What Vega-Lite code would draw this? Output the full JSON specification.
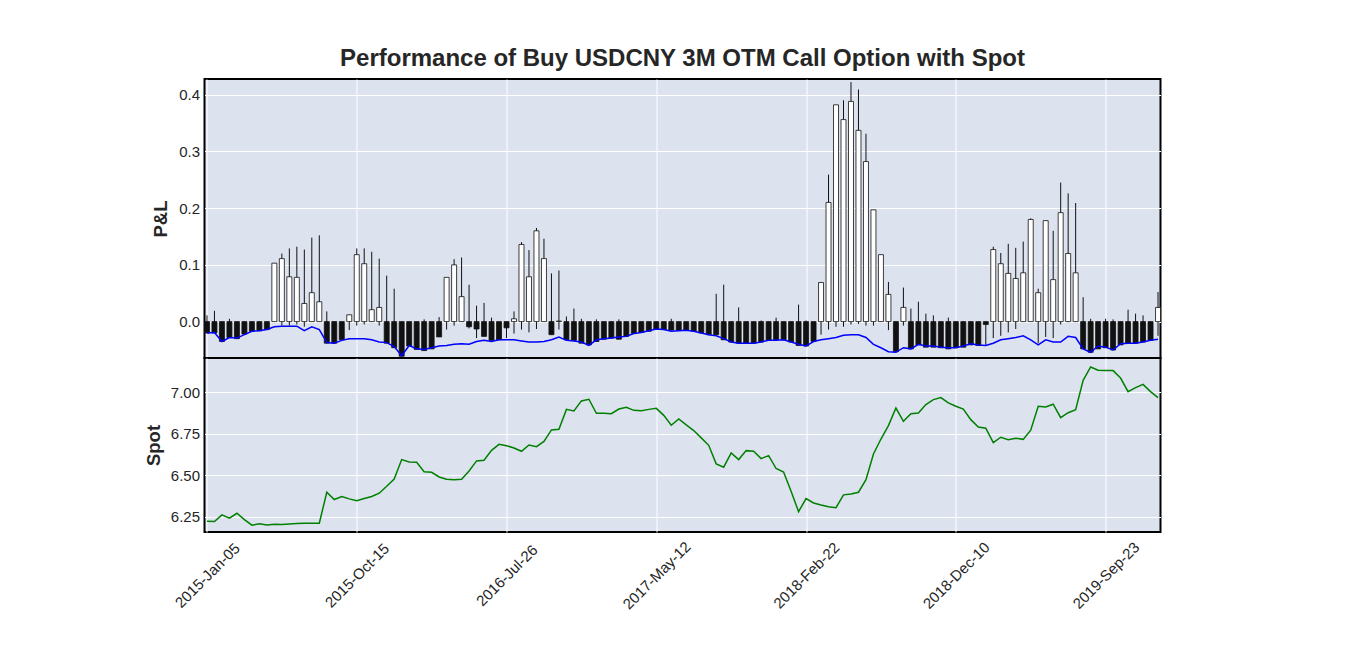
{
 "$schema": "https://vega.github.io/schema/vega-lite/v6.json",
 "background": "white",
 "padding": {"left": 142.5, "top": 46, "right": 5, "bottom": 5},
 "config": {
  "font": "Liberation Sans",
  "view": {"stroke": "black", "strokeWidth": 2, "fill": "#DCE2EE"},
  "axis": {"labelColor": "#262626", "labelFontSize": 15, "titleColor": "#262626", "titleFontSize": 18.5, "titleFontWeight": "bold", "gridColor": "white", "gridWidth": 1, "gridOpacity": 1, "domain": false, "ticks": false, "tickSize": 0},
  "concat": {"spacing": 0}
 },
 "bounds": "flush",
 "spacing": 0,
 "data": {"values": [
  {"d":"2015-Jan-05","o":0,"h":0.011,"l":-0.020,"c":-0.020,"b":-0.020,"s":6.222},
  {"d":"2015-Jan-19","o":0,"h":0.019,"l":-0.020,"c":-0.020,"b":-0.019,"s":6.220},
  {"d":"2015-Feb-02","o":0,"h":0,"l":-0.035,"c":-0.035,"b":-0.035,"s":6.260},
  {"d":"2015-Feb-16","o":0,"h":0.005,"l":-0.028,"c":-0.028,"b":-0.028,"s":6.240},
  {"d":"2015-Mar-02","o":0,"h":0,"l":-0.030,"c":-0.030,"b":-0.029,"s":6.270},
  {"d":"2015-Mar-16","o":0,"h":0,"l":-0.022,"c":-0.022,"b":-0.023,"s":6.232},
  {"d":"2015-Mar-30","o":0,"h":0,"l":-0.017,"c":-0.017,"b":-0.017,"s":6.198},
  {"d":"2015-Apr-13","o":0,"h":0,"l":-0.016,"c":-0.016,"b":-0.016,"s":6.206},
  {"d":"2015-Apr-27","o":0,"h":0,"l":-0.014,"c":-0.014,"b":-0.014,"s":6.200},
  {"d":"2015-May-11","o":0,"h":0.103,"l":0,"c":0.103,"b":-0.009,"s":6.204},
  {"d":"2015-May-25","o":0,"h":0.120,"l":-0.007,"c":0.111,"b":-0.008,"s":6.202},
  {"d":"2015-Jun-08","o":0,"h":0.129,"l":-0.007,"c":0.079,"b":-0.008,"s":6.206},
  {"d":"2015-Jun-22","o":0,"h":0.132,"l":-0.005,"c":0.078,"b":-0.008,"s":6.208},
  {"d":"2015-Jul-06","o":0,"h":0.127,"l":-0.009,"c":0.032,"b":-0.016,"s":6.210},
  {"d":"2015-Jul-20","o":0,"h":0.148,"l":0,"c":0.051,"b":-0.009,"s":6.210},
  {"d":"2015-Aug-03","o":0,"h":0.152,"l":0,"c":0.035,"b":-0.014,"s":6.210},
  {"d":"2015-Aug-17","o":0,"h":0.018,"l":-0.038,"c":-0.038,"b":-0.037,"s":6.397},
  {"d":"2015-Aug-31","o":0,"h":0,"l":-0.038,"c":-0.038,"b":-0.038,"s":6.353},
  {"d":"2015-Sep-14","o":0,"h":0,"l":-0.032,"c":-0.032,"b":-0.033,"s":6.371},
  {"d":"2015-Sep-28","o":0,"h":0.012,"l":-0.015,"c":0.012,"b":-0.030,"s":6.357},
  {"d":"2015-Oct-15","o":0,"h":0.129,"l":-0.007,"c":0.118,"b":-0.030,"s":6.346},
  {"d":"2015-Oct-29","o":0,"h":0.129,"l":-0.005,"c":0.102,"b":-0.030,"s":6.359},
  {"d":"2015-Nov-12","o":0,"h":0.123,"l":0,"c":0.021,"b":-0.032,"s":6.371},
  {"d":"2015-Nov-26","o":0,"h":0.111,"l":-0.007,"c":0.025,"b":-0.036,"s":6.391},
  {"d":"2015-Dec-10","o":0,"h":0.081,"l":-0.038,"c":-0.038,"b":-0.037,"s":6.433},
  {"d":"2015-Dec-24","o":0,"h":0.058,"l":-0.046,"c":-0.046,"b":-0.044,"s":6.477},
  {"d":"2016-Jan-07","o":0,"h":0,"l":-0.061,"c":-0.061,"b":-0.060,"s":6.594},
  {"d":"2016-Jan-21","o":0,"h":0,"l":-0.043,"c":-0.043,"b":-0.042,"s":6.580},
  {"d":"2016-Feb-04","o":0,"h":0,"l":-0.049,"c":-0.049,"b":-0.048,"s":6.578},
  {"d":"2016-Feb-18","o":0,"h":0.004,"l":-0.051,"c":-0.051,"b":-0.049,"s":6.521},
  {"d":"2016-Mar-03","o":0,"h":0,"l":-0.048,"c":-0.048,"b":-0.046,"s":6.517},
  {"d":"2016-Mar-17","o":0,"h":0.008,"l":-0.027,"c":-0.027,"b":-0.043,"s":6.489},
  {"d":"2016-Mar-31","o":0,"h":0.078,"l":-0.014,"c":0.078,"b":-0.042,"s":6.475},
  {"d":"2016-Apr-14","o":0,"h":0.110,"l":-0.007,"c":0.100,"b":-0.040,"s":6.473},
  {"d":"2016-Apr-28","o":0,"h":0.113,"l":0,"c":0.044,"b":-0.039,"s":6.475},
  {"d":"2016-May-12","o":0,"h":0.065,"l":-0.012,"c":-0.009,"b":-0.040,"s":6.525},
  {"d":"2016-May-26","o":0,"h":0.028,"l":-0.029,"c":-0.013,"b":-0.035,"s":6.586},
  {"d":"2016-Jun-09","o":0,"h":0.033,"l":-0.026,"c":-0.026,"b":-0.033,"s":6.590},
  {"d":"2016-Jun-27","o":0,"h":0.007,"l":-0.033,"c":-0.033,"b":-0.035,"s":6.650},
  {"d":"2016-Jul-12","o":0,"h":0,"l":-0.032,"c":-0.032,"b":-0.032,"s":6.686},
  {"d":"2016-Jul-26","o":0,"h":0,"l":-0.029,"c":-0.011,"b":-0.032,"s":6.678},
  {"d":"2016-Aug-09","o":0,"h":0.018,"l":-0.021,"c":0.005,"b":-0.032,"s":6.664},
  {"d":"2016-Aug-23","o":0,"h":0.140,"l":-0.014,"c":0.136,"b":-0.034,"s":6.644},
  {"d":"2016-Sep-06","o":0,"h":0.126,"l":-0.019,"c":0.079,"b":-0.036,"s":6.682},
  {"d":"2016-Sep-20","o":0,"h":0.165,"l":-0.013,"c":0.160,"b":-0.036,"s":6.672},
  {"d":"2016-Oct-11","o":0,"h":0.146,"l":0,"c":0.111,"b":-0.035,"s":6.704},
  {"d":"2016-Oct-25","o":0,"h":0.085,"l":-0.023,"c":-0.023,"b":-0.032,"s":6.773},
  {"d":"2016-Nov-08","o":0,"h":0.090,"l":-0.014,"c":0.001,"b":-0.027,"s":6.777},
  {"d":"2016-Nov-22","o":0,"h":0.009,"l":-0.032,"c":-0.032,"b":-0.033,"s":6.897},
  {"d":"2016-Dec-06","o":0,"h":0.023,"l":-0.033,"c":-0.033,"b":-0.034,"s":6.887},
  {"d":"2016-Dec-20","o":0,"h":0.005,"l":-0.038,"c":-0.038,"b":-0.036,"s":6.948},
  {"d":"2017-Jan-04","o":0,"h":0,"l":-0.041,"c":-0.041,"b":-0.042,"s":6.958},
  {"d":"2017-Jan-18","o":0,"h":0.004,"l":-0.035,"c":-0.035,"b":-0.032,"s":6.873},
  {"d":"2017-Feb-08","o":0,"h":0,"l":-0.031,"c":-0.031,"b":-0.030,"s":6.873},
  {"d":"2017-Feb-22","o":0,"h":0,"l":-0.029,"c":-0.029,"b":-0.029,"s":6.871},
  {"d":"2017-Mar-08","o":0,"h":0.004,"l":-0.031,"c":-0.031,"b":-0.027,"s":6.899},
  {"d":"2017-Mar-22","o":0,"h":0,"l":-0.026,"c":-0.026,"b":-0.026,"s":6.910},
  {"d":"2017-Apr-05","o":0,"h":0,"l":-0.021,"c":-0.021,"b":-0.021,"s":6.891},
  {"d":"2017-Apr-19","o":0,"h":0,"l":-0.019,"c":-0.019,"b":-0.019,"s":6.889},
  {"d":"2017-Apr-28","o":0,"h":0,"l":-0.017,"c":-0.017,"b":-0.016,"s":6.897},
  {"d":"2017-May-12","o":0,"h":0,"l":-0.013,"c":-0.013,"b":-0.013,"s":6.903},
  {"d":"2017-May-26","o":0,"h":0,"l":-0.014,"c":-0.014,"b":-0.014,"s":6.861},
  {"d":"2017-Jun-09","o":0,"h":0.005,"l":-0.015,"c":-0.015,"b":-0.017,"s":6.801},
  {"d":"2017-Jun-23","o":0,"h":0,"l":-0.015,"c":-0.015,"b":-0.016,"s":6.839},
  {"d":"2017-Jul-07","o":0,"h":0,"l":-0.015,"c":-0.015,"b":-0.015,"s":6.803},
  {"d":"2017-Jul-21","o":0,"h":0,"l":-0.017,"c":-0.017,"b":-0.017,"s":6.769},
  {"d":"2017-Aug-04","o":0,"h":0,"l":-0.020,"c":-0.020,"b":-0.020,"s":6.725},
  {"d":"2017-Aug-18","o":0,"h":0,"l":-0.023,"c":-0.023,"b":-0.023,"s":6.680},
  {"d":"2017-Sep-01","o":0,"h":0.049,"l":-0.023,"c":-0.023,"b":-0.025,"s":6.568},
  {"d":"2017-Sep-15","o":0,"h":0.065,"l":-0.032,"c":-0.032,"b":-0.030,"s":6.548},
  {"d":"2017-Sep-29","o":0,"h":0,"l":-0.036,"c":-0.036,"b":-0.036,"s":6.634},
  {"d":"2017-Oct-20","o":0,"h":0.025,"l":-0.038,"c":-0.038,"b":-0.038,"s":6.594},
  {"d":"2017-Nov-03","o":0,"h":0,"l":-0.038,"c":-0.038,"b":-0.038,"s":6.648},
  {"d":"2017-Nov-17","o":0,"h":0,"l":-0.038,"c":-0.038,"b":-0.038,"s":6.644},
  {"d":"2017-Dec-01","o":0,"h":0.002,"l":-0.036,"c":-0.036,"b":-0.036,"s":6.600},
  {"d":"2017-Dec-15","o":0,"h":0,"l":-0.033,"c":-0.033,"b":-0.033,"s":6.618},
  {"d":"2017-Dec-29","o":0,"h":0.007,"l":-0.032,"c":-0.032,"b":-0.033,"s":6.540},
  {"d":"2018-Jan-12","o":0,"h":0,"l":-0.032,"c":-0.032,"b":-0.032,"s":6.519},
  {"d":"2018-Jan-26","o":0,"h":0,"l":-0.036,"c":-0.036,"b":-0.036,"s":6.403},
  {"d":"2018-Feb-09","o":0,"h":0.030,"l":-0.042,"c":-0.042,"b":-0.040,"s":6.280},
  {"d":"2018-Feb-22","o":0,"h":0.002,"l":-0.043,"c":-0.043,"b":-0.043,"s":6.359},
  {"d":"2018-Mar-08","o":0,"h":0,"l":-0.035,"c":-0.035,"b":-0.035,"s":6.332},
  {"d":"2018-Mar-22","o":0,"h":0.069,"l":-0.023,"c":0.069,"b":-0.032,"s":6.320},
  {"d":"2018-Apr-09","o":0,"h":0.259,"l":-0.014,"c":0.210,"b":-0.030,"s":6.310},
  {"d":"2018-Apr-23","o":0,"h":0.382,"l":-0.009,"c":0.382,"b":-0.028,"s":6.304},
  {"d":"2018-May-08","o":0,"h":0.390,"l":-0.009,"c":0.356,"b":-0.024,"s":6.381},
  {"d":"2018-May-22","o":0,"h":0.422,"l":-0.005,"c":0.388,"b":-0.023,"s":6.387},
  {"d":"2018-Jun-05","o":0,"h":0.409,"l":-0.004,"c":0.337,"b":-0.023,"s":6.397},
  {"d":"2018-Jun-20","o":0,"h":0.331,"l":-0.007,"c":0.282,"b":-0.028,"s":6.473},
  {"d":"2018-Jul-04","o":0,"h":0.197,"l":-0.007,"c":0.197,"b":-0.040,"s":6.628},
  {"d":"2018-Jul-18","o":0,"h":0.118,"l":0,"c":0.118,"b":-0.046,"s":6.718},
  {"d":"2018-Aug-01","o":0,"h":0.070,"l":-0.015,"c":0.048,"b":-0.053,"s":6.799},
  {"d":"2018-Aug-15","o":0,"h":0,"l":-0.053,"c":-0.053,"b":-0.054,"s":6.905},
  {"d":"2018-Aug-29","o":0,"h":0.060,"l":-0.007,"c":0.025,"b":-0.046,"s":6.825},
  {"d":"2018-Sep-12","o":0,"h":0.023,"l":-0.048,"c":-0.048,"b":-0.048,"s":6.871},
  {"d":"2018-Sep-27","o":0,"h":0.035,"l":-0.041,"c":-0.041,"b":-0.040,"s":6.875},
  {"d":"2018-Oct-18","o":0,"h":0.014,"l":-0.045,"c":-0.045,"b":-0.043,"s":6.926},
  {"d":"2018-Nov-01","o":0,"h":0.011,"l":-0.045,"c":-0.045,"b":-0.043,"s":6.956},
  {"d":"2018-Nov-15","o":0,"h":0,"l":-0.046,"c":-0.046,"b":-0.045,"s":6.968},
  {"d":"2018-Nov-27","o":0,"h":0.007,"l":-0.048,"c":-0.048,"b":-0.046,"s":6.936},
  {"d":"2018-Dec-10","o":0,"h":0,"l":-0.046,"c":-0.046,"b":-0.046,"s":6.916},
  {"d":"2018-Dec-24","o":0,"h":0,"l":-0.045,"c":-0.045,"b":-0.043,"s":6.899},
  {"d":"2019-Jan-08","o":0,"h":0,"l":-0.041,"c":-0.041,"b":-0.039,"s":6.835},
  {"d":"2019-Jan-22","o":0,"h":0,"l":-0.042,"c":-0.042,"b":-0.041,"s":6.791},
  {"d":"2019-Feb-12","o":0,"h":0,"l":-0.041,"c":-0.005,"b":-0.042,"s":6.783},
  {"d":"2019-Feb-26","o":0,"h":0.132,"l":-0.029,"c":0.127,"b":-0.038,"s":6.696},
  {"d":"2019-Mar-12","o":0,"h":0.121,"l":-0.025,"c":0.102,"b":-0.032,"s":6.729},
  {"d":"2019-Mar-26","o":0,"h":0.137,"l":-0.019,"c":0.085,"b":-0.030,"s":6.714},
  {"d":"2019-Apr-10","o":0,"h":0.130,"l":-0.013,"c":0.076,"b":-0.028,"s":6.723},
  {"d":"2019-Apr-24","o":0,"h":0.141,"l":0,"c":0.086,"b":-0.025,"s":6.716},
  {"d":"2019-May-13","o":0,"h":0.182,"l":0,"c":0.180,"b":-0.032,"s":6.771},
  {"d":"2019-May-27","o":0,"h":0.058,"l":-0.038,"c":0.051,"b":-0.041,"s":6.916},
  {"d":"2019-Jun-10","o":0,"h":0.178,"l":-0.027,"c":0.178,"b":-0.032,"s":6.912},
  {"d":"2019-Jun-25","o":0,"h":0.160,"l":-0.029,"c":0.074,"b":-0.036,"s":6.928},
  {"d":"2019-Jul-09","o":0,"h":0.245,"l":-0.005,"c":0.192,"b":-0.036,"s":6.847},
  {"d":"2019-Jul-23","o":0,"h":0.226,"l":-0.001,"c":0.120,"b":-0.026,"s":6.877},
  {"d":"2019-Aug-06","o":0,"h":0.209,"l":0,"c":0.086,"b":-0.028,"s":6.895},
  {"d":"2019-Aug-16","o":0,"h":0.043,"l":-0.048,"c":-0.048,"b":-0.048,"s":7.072},
  {"d":"2019-Aug-30","o":0,"h":0.005,"l":-0.054,"c":-0.054,"b":-0.054,"s":7.153},
  {"d":"2019-Sep-10","o":0,"h":0,"l":-0.048,"c":-0.048,"b":-0.043,"s":7.133},
  {"d":"2019-Sep-23","o":0,"h":0.005,"l":-0.046,"c":-0.046,"b":-0.045,"s":7.131},
  {"d":"2019-Oct-14","o":0,"h":0.004,"l":-0.050,"c":-0.050,"b":-0.050,"s":7.131},
  {"d":"2019-Oct-28","o":0,"h":0,"l":-0.041,"c":-0.041,"b":-0.039,"s":7.086},
  {"d":"2019-Nov-11","o":0,"h":0.021,"l":-0.038,"c":-0.038,"b":-0.038,"s":7.004},
  {"d":"2019-Nov-25","o":0,"h":0.014,"l":-0.038,"c":-0.038,"b":-0.038,"s":7.028},
  {"d":"2019-Dec-09","o":0,"h":0.011,"l":-0.036,"c":-0.036,"b":-0.036,"s":7.048},
  {"d":"2019-Dec-23","o":0,"h":0,"l":-0.033,"c":-0.033,"b":-0.033,"s":7.004},
  {"d":"2020-Jan-08","o":0,"h":0.052,"l":-0.025,"c":0.025,"b":-0.031,"s":6.968}
 ]},
 "vconcat": [
  {
   "title": {"text": "Performance of Buy USDCNY 3M OTM Call Option with Spot", "fontSize": 24, "fontWeight": "bold", "color": "#262626", "anchor": "middle", "frame": "group", "offset": -11, "baseline": "alphabetic"},
   "width": 956,
   "height": 279,
   "encoding": {
    "x": {"field": "d", "type": "ordinal", "sort": null, "scale": {"type": "point", "padding": 0.33},
      "axis": {"title": null, "labels": false, "grid": true, "labelPadding": 0, "values": ["2015-Jan-05","2015-Oct-15","2016-Jul-26","2017-May-12","2018-Feb-22","2018-Dec-10","2019-Sep-23"]}}
   },
   "layer": [
    {"mark": {"type": "rule", "color": "#111111", "strokeWidth": 1},
     "encoding": {
      "y": {"field": "l", "type": "quantitative", "title": "P&L", "scale": {"domain": [-0.0641, 0.4275], "nice": false, "zero": false},
        "axis": {"values": [0, 0.1, 0.2, 0.3, 0.4], "format": ".1f", "grid": true, "labelPadding": 5, "titlePadding": 8}},
      "y2": {"field": "h"}
     }},
    {"mark": {"type": "bar", "width": 5, "stroke": "#111111", "strokeWidth": 0.8},
     "encoding": {
      "y": {"field": "o", "type": "quantitative", "title": "P&L"},
      "y2": {"field": "c"},
      "fill": {"condition": {"test": "datum.c >= datum.o", "value": "white"}, "value": "#111111"}
     }},
    {"mark": {"type": "line", "color": "#0000ff", "strokeWidth": 1.5},
     "encoding": {
      "y": {"field": "b", "type": "quantitative", "title": "P&L"}
     }}
   ]
  },
  {
   "width": 956,
   "height": 174,
   "mark": {"type": "line", "color": "#008000", "strokeWidth": 1.5},
   "encoding": {
    "x": {"field": "d", "type": "ordinal", "sort": null, "scale": {"type": "point", "padding": 0.33},
      "axis": {"title": null, "grid": true, "labelAngle": -45, "labelAlign": "center", "labelBaseline": "middle", "labelPadding": 43, "labelOverlap": false,
        "values": ["2015-Jan-05","2015-Oct-15","2016-Jul-26","2017-May-12","2018-Feb-22","2018-Dec-10","2019-Sep-23"]}},
    "y": {"field": "s", "type": "quantitative", "title": "Spot", "scale": {"domain": [6.157, 7.207], "nice": false, "zero": false},
      "axis": {"values": [6.25, 6.5, 6.75, 7.0], "format": ".2f", "grid": true, "labelPadding": 5, "titlePadding": 7}}
   }
  }
 ]
}
